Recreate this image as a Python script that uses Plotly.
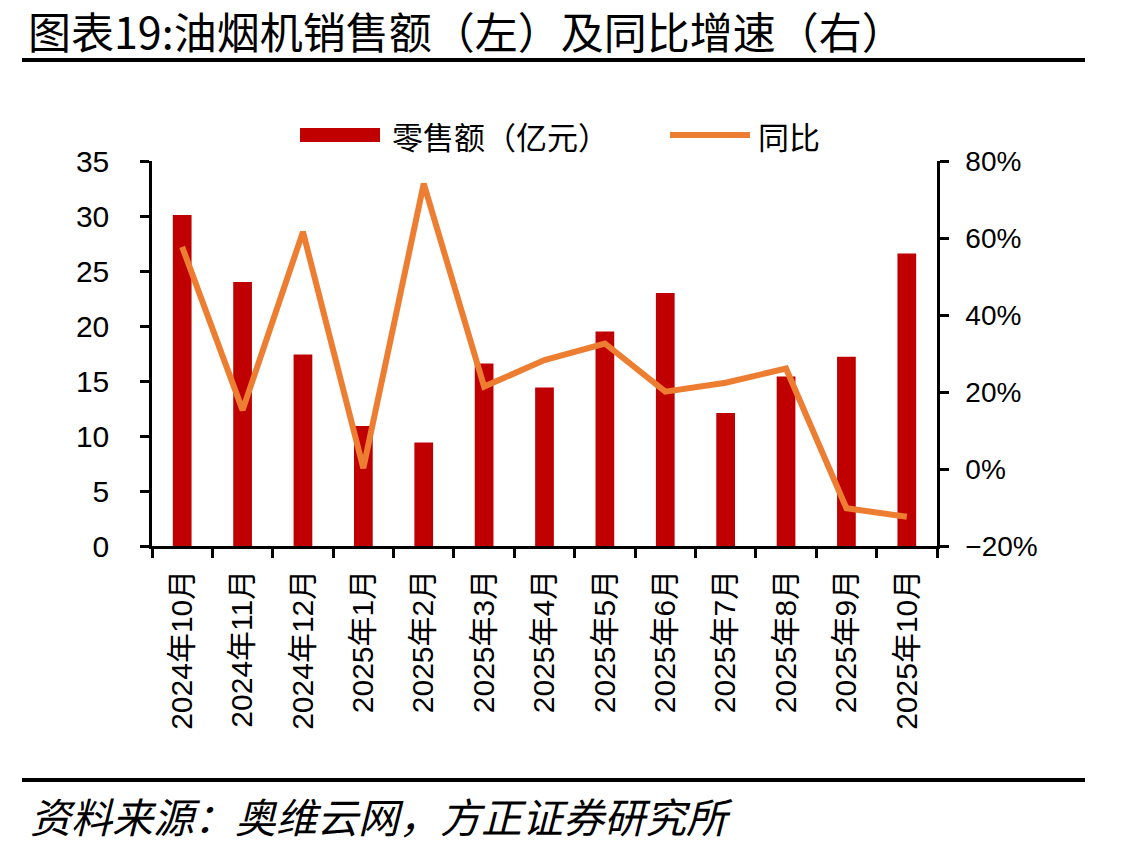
import plotly.graph_objects as go

categories = ["2024年10月", "2024年11月", "2024年12月", "2025年1月", "2025年2月",
              "2025年3月", "2025年4月", "2025年5月", "2025年6月", "2025年7月",
              "2025年8月", "2025年9月", "2025年10月"]
sales = [30.1, 24.0, 17.4, 10.9, 9.4, 16.6, 14.4, 19.5, 23.0, 12.1, 15.4, 17.2, 26.6]
yoy = [0.577, 0.153, 0.616, 0.002, 0.741, 0.214, 0.283, 0.326, 0.201, 0.224, 0.261, -0.102, -0.124]

title_text = "图表19:油烟机销售额（左）及同比增速（右）"
source_text = "资料来源：奥维云网，方正证券研究所"
bar_name = "零售额（亿元）"
line_name = "同比"

BAR_COLOR = "#C00000"
LINE_COLOR = "#ED7D31"

W, H = 1132, 850
L, R, T, B = 152, 937, 161, 546


def px(x):
    return (x - L) / (R - L)


def py(y):
    return (B - y) / (B - T)


fig = go.Figure()
fig.add_trace(go.Bar(x=categories, y=sales, name=bar_name, marker_color=BAR_COLOR,
                     marker_line_width=0, yaxis="y", showlegend=False))
fig.add_trace(go.Scatter(x=categories, y=yoy, name=line_name, mode="lines",
                         line=dict(color=LINE_COLOR, width=6), yaxis="y2",
                         showlegend=False))

num_font = dict(family="Liberation Sans, Arial, Noto Sans CJK SC", size=30, color="black")

fig.update_layout(
    width=W, height=H,
    margin=dict(l=L, r=W - R, t=T, b=H - B, autoexpand=False),
    paper_bgcolor="white", plot_bgcolor="white",
    bargap=0.69,
    showlegend=False,
    xaxis=dict(
        type="category", showgrid=False, zeroline=False,
        showline=True, linecolor="black", linewidth=2.5,
        ticks="outside", tickson="boundaries", ticklen=9, tickwidth=2.5, tickcolor="black",
        tickangle=-90, tickfont=num_font, ticklabelstandoff=9,
    ),
    yaxis=dict(
        range=[0, 35], dtick=5, showgrid=False, zeroline=False,
        showline=True, linecolor="black", linewidth=2.5,
        ticks="outside", ticklen=9, tickwidth=2.5, tickcolor="black",
        tickfont=num_font, ticklabelstandoff=25,
    ),
    yaxis2=dict(
        range=[-0.2, 0.8], dtick=0.2, tickformat=".0%", overlaying="y", side="right",
        showgrid=False, zeroline=False,
        showline=True, linecolor="black", linewidth=2.5,
        ticks="outside", ticklen=9, tickwidth=2.5, tickcolor="black",
        tickfont=dict(family="Liberation Sans, Arial", size=28, color="black"),
        ticklabelstandoff=11,
    ),
)

shapes = [
    dict(type="line", xref="paper", yref="paper", x0=px(22), x1=px(1085), y0=py(60), y1=py(60),
         line=dict(color="black", width=4)),
    dict(type="line", xref="paper", yref="paper", x0=px(22), x1=px(1085), y0=py(780), y1=py(780),
         line=dict(color="black", width=4)),
    dict(type="rect", xref="paper", yref="paper", x0=px(300), x1=px(380), y0=py(142), y1=py(128),
         fillcolor=BAR_COLOR, line=dict(width=0)),
    dict(type="line", xref="paper", yref="paper", x0=px(670), x1=px(750), y0=py(135), y1=py(135),
         line=dict(color=LINE_COLOR, width=6)),
]

cjk = "Noto Sans CJK SC"
annotations = [
    dict(text=title_text, xref="paper", yref="paper", x=px(26), y=py(30), xanchor="left",
         yanchor="middle", showarrow=False, font=dict(family=cjk, size=43, color="black")),
    dict(text="<i>" + source_text + "</i>", xref="paper", yref="paper", x=px(28), y=py(815),
         xanchor="left", yanchor="middle", showarrow=False,
         font=dict(family=cjk, size=41, color="black")),
    dict(text=bar_name, xref="paper", yref="paper", x=px(390), y=py(135), xanchor="left",
         yanchor="middle", showarrow=False, font=dict(family=cjk, size=31, color="black")),
    dict(text=line_name, xref="paper", yref="paper", x=px(756), y=py(135), xanchor="left",
         yanchor="middle", showarrow=False, font=dict(family=cjk, size=31, color="black")),
]

fig.update_layout(shapes=shapes, annotations=annotations)
fig.write_html("out.html")
